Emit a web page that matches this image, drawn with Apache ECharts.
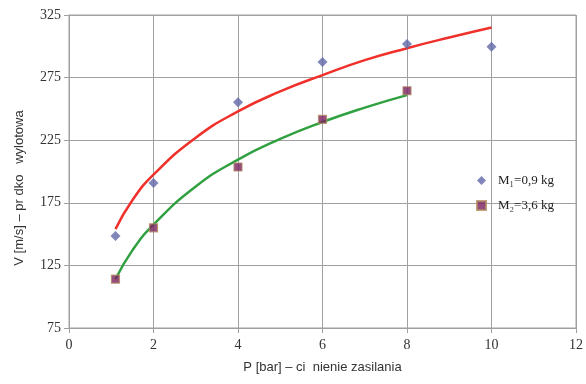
<!DOCTYPE html>
<html><head><meta charset="utf-8">
<script src="https://cdn.jsdelivr.net/npm/echarts@6/dist/echarts.min.js"></script>
<style>html,body{margin:0;padding:0;background:#fff}#c{width:586px;height:384px}</style>
</head><body><div id="c"></div>
<script>
var xTicks = [0, 2, 4, 6, 8, 10, 12];
var yTicks = [75, 125, 175, 225, 275, 325];
var m1P = [1.1, 2, 4, 6, 8, 10];
var m1V = [148.5, 190.8, 255.3, 287.5, 301.8, 299.6];
var m2P = [1.1, 2, 4, 6, 8];
var m2V = [114, 155, 203.6, 241.7, 264.5];
var trend1P = [1.1, 1.5, 2, 3, 4, 5, 6, 7, 8, 9, 10];
var trend1V = [154, 177, 197.5, 227, 248, 264, 277, 289, 298.5, 307, 315];
var trend2P = [1.1, 1.5, 2, 3, 4, 5, 6, 7, 8];
var trend2V = [114, 137, 157.5, 188, 209.5, 226, 239.5, 251, 261];
var names = ['M\u2081=0,9 kg', 'M\u2082=3,6 kg'];

function zip(a, b) { return a.map(function (v, i) { return [v, b[i]]; }); }

var chart = echarts.init(document.getElementById('c'), null, {renderer: 'canvas'});
var serif = '"Liberation Serif", "DejaVu Serif", serif';
var sans = '"Liberation Sans", Arial, sans-serif';
chart.setOption({
  animation: false,
  backgroundColor: '#fff',
  grid: {left: 69, right: 10, top: 15, bottom: 56, show: true, borderColor: '#a0a0a0', borderWidth: 1},
  xAxis: {
    type: 'value', min: xTicks[0], max: xTicks[xTicks.length - 1], interval: 2,
    axisLine: {show: true, lineStyle: {color: '#a0a0a0'}},
    axisTick: {show: true, length: 5, lineStyle: {color: '#a0a0a0'}},
    splitLine: {show: true, lineStyle: {color: '#a0a0a0', width: 1}},
    axisLabel: {color: '#333', fontFamily: serif, fontSize: 14, margin: 10},
    name: 'P [bar] \u2013 ci  nienie zasilania', nameLocation: 'middle', nameGap: 33,
    nameTextStyle: {color: '#333', fontFamily: sans, fontSize: 13}
  },
  yAxis: {
    type: 'value', min: yTicks[0], max: yTicks[yTicks.length - 1], interval: 50,
    axisLine: {show: true, lineStyle: {color: '#a0a0a0'}},
    axisTick: {show: true, length: 5, lineStyle: {color: '#a0a0a0'}},
    splitLine: {show: true, lineStyle: {color: '#a0a0a0', width: 1}},
    axisLabel: {color: '#333', fontFamily: serif, fontSize: 14, margin: 8}
  },
  graphic: [{
    type: 'text', x: 19, y: 188, rotation: Math.PI / 2,
    style: {text: 'V [m/s] \u2013 pr dko   wylotowa', fill: '#333', font: '13px ' + sans,
      textAlign: 'center', textVerticalAlign: 'middle'}
  }],
  legend: {
    orient: 'vertical', left: 471, top: 169, itemGap: 12, itemWidth: 9, itemHeight: 9,
    data: [{name: names[0], icon: 'diamond'}, {name: names[1], icon: 'rect'}],
    textStyle: {color: '#222', fontFamily: serif, fontSize: 13, padding: [0, 0, 0, 7]}
  },
  series: [
    {type: 'line', data: zip(trend1P, trend1V), smooth: true, showSymbol: false, symbol: 'none',
      lineStyle: {color: '#f0302a', width: 2.5}, z: 2, silent: true},
    {type: 'line', data: zip(trend2P, trend2V), smooth: true, showSymbol: false, symbol: 'none',
      lineStyle: {color: '#30a040', width: 2.5}, z: 2, silent: true},
    {type: 'scatter', name: names[0], data: zip(m1P, m1V), symbol: 'diamond', symbolSize: 10,
      itemStyle: {color: '#6068a8'}, z: 3},
    {type: 'scatter', name: names[1], data: zip(m2P, m2V), symbol: 'rect', symbolSize: 8,
      itemStyle: {color: '#7a2060', borderColor: '#b08a60', borderWidth: 1.2}, z: 3}
  ]
});
</script></body></html>
